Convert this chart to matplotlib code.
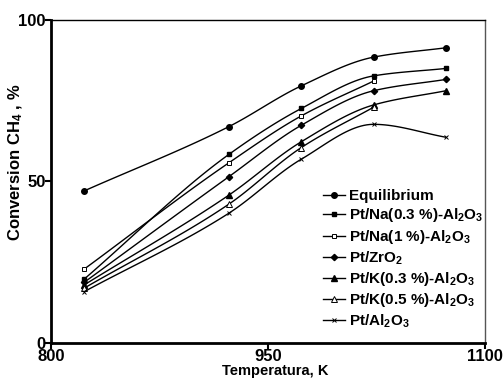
import numpy as np
import matplotlib
matplotlib.use("Agg")
import matplotlib.pyplot as plt

plt.rcParams['font.family'] = ['Liberation Sans', 'DejaVu Sans']
plt.rcParams['font.weight'] = 'bold'
plt.rcParams['mathtext.fontset'] = 'custom'
plt.rcParams['mathtext.rm'] = 'Liberation Sans:bold'
plt.rcParams['mathtext.default'] = 'rm'

temps = [823, 923, 973, 1023, 1073]
temps4 = [823, 923, 973, 1023]

equilibrium = [47.1, 67.0, 79.6, 88.5, 91.4]
na03 = [19.8, 58.4, 72.6, 82.7, 85.0]
na1 = [22.9, 55.8, 70.3, 81.1]
zro2 = [18.8, 51.5, 67.4, 78.1, 81.6]
k03 = [18.0, 45.8, 62.3, 73.7, 78.1]
k05 = [17.0, 43.0, 60.5, 73.0]
al2o3 = [15.9, 40.2, 56.9, 67.7, 63.7]

labels = ['Equilibrium', 'Pt/Na(0.3 %)-Al$_2$O$_3$', 'Pt/Na(1 %)-Al$_2$O$_3$',
          'Pt/ZrO$_2$', 'Pt/K(0.3 %)-Al$_2$O$_3$', 'Pt/K(0.5 %)-Al$_2$O$_3$',
          'Pt/Al$_2$O$_3$']


def smooth(x, y, n=120):
    # monotone cubic (pchip) curve through the points, only for drawing
    x = np.asarray(x, float)
    y = np.asarray(y, float)
    h = np.diff(x)
    d = np.diff(y) / h
    k = len(x)
    m = np.zeros(k)
    for i in range(1, k - 1):
        if d[i - 1] * d[i] > 0:
            w1 = 2 * h[i] + h[i - 1]
            w2 = h[i] + 2 * h[i - 1]
            m[i] = (w1 + w2) / (w1 / d[i - 1] + w2 / d[i])
    m[0] = d[0]
    m[-1] = d[-1]
    xs = np.linspace(x[0], x[-1], n)
    idx = np.clip(np.searchsorted(x, xs) - 1, 0, k - 2)
    hh = h[idx]
    t = (xs - x[idx]) / hh
    h00 = 2 * t ** 3 - 3 * t ** 2 + 1
    h10 = t ** 3 - 2 * t ** 2 + t
    h01 = -2 * t ** 3 + 3 * t ** 2
    h11 = t ** 3 - t ** 2
    ys = h00 * y[idx] + h10 * hh * m[idx] + h01 * y[idx + 1] + h11 * hh * m[idx + 1]
    return xs, ys


fig = plt.figure(figsize=(5.03, 3.78), dpi=100)
ax = fig.add_axes([0.1014, 0.0926, 0.8628, 0.8545])

series = [
    (temps, equilibrium, dict(marker='o', mfc='black', ms=4)),
    (temps, na03, dict(marker='s', mfc='black', ms=3.5)),
    (temps4, na1, dict(marker='s', mfc='white', ms=3.5, mew=0.7)),
    (temps, zro2, dict(marker='D', mfc='black', ms=3.2)),
    (temps, k03, dict(marker='^', mfc='black', ms=4)),
    (temps4, k05, dict(marker='^', mfc='white', ms=4, mew=0.7)),
    (temps, al2o3, dict(marker='x', mfc='black', ms=3, mew=0.7)),
]

for (x, y, st), lab in zip(series, labels):
    xs, ys = smooth(x, y)
    ax.plot(xs, ys, color='black', lw=1.0)
    ax.plot(x, y, ls='none', mec='black', color='black', **st)
    ax.plot([], [], color='black', lw=1.0, label=lab, **st)

ax.set_xlim(800, 1100)
ax.set_ylim(0, 100)
ax.set_xticks([800, 950, 1100])
ax.set_yticks([0, 50, 100])
ax.tick_params(direction='out', length=4, width=1.5, labelsize=12, pad=0)
for lbl in ax.get_xticklabels() + ax.get_yticklabels():
    lbl.set_fontweight('bold')

ax.spines['left'].set_linewidth(2)
ax.spines['bottom'].set_linewidth(2)
ax.spines['top'].set_linewidth(1)
ax.spines['right'].set_linewidth(1)
ax.spines['right'].set_color('#555555')

ax.set_xlabel('Temperatura, K', fontsize=10.5, fontweight='bold')
ax.set_ylabel('Conversion CH$_4$ , %', fontsize=12, fontweight='bold')
ax.xaxis.set_label_coords(0.516, -0.064)
ax.yaxis.set_label_coords(-0.06, 0.56)

ax.legend(loc='upper left', bbox_to_anchor=(0.61, 0.5), frameon=False,
          handlelength=1.4, handletextpad=0.3, labelspacing=0.22, borderpad=0,
          prop={'weight': 'bold', 'size': 11})

fig.savefig('out.png', dpi=100)
